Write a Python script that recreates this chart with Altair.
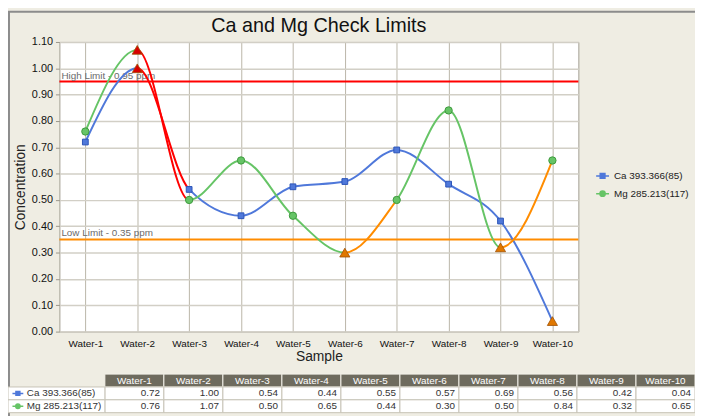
import altair as alt
import pandas as pd

samples = ["Water-1", "Water-2", "Water-3", "Water-4", "Water-5",
           "Water-6", "Water-7", "Water-8", "Water-9", "Water-10"]
ca_name = "Ca 393.366(85)"
mg_name = "Mg 285.213(117)"
ca_vals = [0.72, 1.00, 0.54, 0.44, 0.55, 0.57, 0.69, 0.56, 0.42, 0.04]
mg_vals = [0.76, 1.07, 0.50, 0.65, 0.44, 0.30, 0.50, 0.84, 0.32, 0.65]
high_limit = 0.95
low_limit = 0.35
limit_labels = ["High Limit - 0.95 ppm", "Low Limit - 0.35 ppm"]
y_ticks = [0.0, 0.1, 0.2, 0.3, 0.4, 0.5, 0.6, 0.7, 0.8, 0.9, 1.0, 1.1]

FONT = "Liberation Sans"
BLUE = "#4f78da"
GREEN = "#66c466"
RED = "#ff0000"
ORANGE = "#ff8c00"
TRI_RED = "#d80000"
TRI_ORANGE = "#e07800"
BG = "#efede3"

W, H = 525, 293
PAD_L, PAD_T = 52, 32
TOTAL_W, TOTAL_H = 695, 408


def status(v):
    if v > high_limit:
        return "high"
    if v < low_limit:
        return "low"
    return "normal"


rows = []
for name, vals in [(ca_name, ca_vals), (mg_name, mg_vals)]:
    for s, v in zip(samples, vals):
        st = status(v)
        rows.append({"series": name, "sample": s, "value": v, "status": st,
                     "tri": TRI_RED if st == "high" else TRI_ORANGE})
df = pd.DataFrame(rows)

x_axis = alt.Axis(title="Sample", labelFont=FONT, labelFontSize=10,
                  labelColor="#111", labelAngle=0, labelPadding=7,
                  ticks=False, domain=False, grid=True,
                  gridColor="#bab5a8", gridWidth=1,
                  titleFont=FONT, titleFontSize=14, titleFontWeight="normal",
                  titleColor="#222", titlePadding=1)
x_enc = alt.X("sample:N", sort=samples,
              scale=alt.Scale(type="point", domain=samples, padding=0.5),
              axis=x_axis)
y_scale = alt.Scale(domain=[0, 1.1], nice=False, zero=True)
y_axis = alt.Axis(title="Concentration", format=".2f", values=y_ticks,
                  labelOverlap=False, labelBound=False,
                  labelFont=FONT, labelFontSize=11, labelColor="#111",
                  tickSize=4, tickColor="#9a968a", labelPadding=3,
                  domain=False, grid=True, gridColor="#d2cfc6", gridWidth=1.5,
                  titleFont=FONT, titleFontSize=14, titleFontWeight="normal",
                  titleColor="#222", titlePadding=4)
y_enc = alt.Y("value:Q", scale=y_scale, axis=y_axis)


def gradient_for(vals, base):
    stops = []
    n = len(vals) - 1
    for i in range(n):
        st = status(vals[i])
        c = RED if st == "high" else ORANGE if st == "low" else base
        stops.append({"offset": i / n, "color": c})
        stops.append({"offset": (i + 1) / n, "color": c})
    return {"gradient": "linear", "x1": 0, "x2": 1, "y1": 0, "y2": 0, "stops": stops}


base = alt.Chart(df)

frame = alt.Chart(pd.DataFrame({"k": [0]})).mark_rect(
    fill=None, stroke="#8c8c8c", strokeWidth=2).encode(
    x=alt.value(-51), x2=alt.value(TOTAL_W - PAD_L + 20),
    y=alt.value(-30.5), y2=alt.value(TOTAL_H - PAD_T + 20))

lim_df = pd.DataFrame({"lim": [high_limit, low_limit], "label": limit_labels,
                       "c": [RED, ORANGE]})
lim_rules = alt.Chart(lim_df).mark_rule(strokeWidth=2).encode(
    y=alt.Y("lim:Q", scale=y_scale, axis=y_axis),
    color=alt.Color("c:N", scale=None))
lim_text = alt.Chart(lim_df).mark_text(
    align="left", baseline="bottom", dx=2, dy=-1, font=FONT, fontSize=10,
    color="#6a6a6a").encode(
    x=alt.value(0), y=alt.Y("lim:Q", scale=y_scale, axis=y_axis), text="label:N")

line_ca = base.transform_filter(alt.datum.series == ca_name).mark_line(
    interpolate="monotone", strokeWidth=2, stroke=gradient_for(ca_vals, BLUE)
).encode(x=x_enc, y=y_enc)
line_mg = base.transform_filter(alt.datum.series == mg_name).mark_line(
    interpolate="monotone", strokeWidth=2, stroke=gradient_for(mg_vals, GREEN)
).encode(x=x_enc, y=y_enc)

pts_ca = base.transform_filter(
    (alt.datum.series == ca_name) & (alt.datum.status == "normal")
).mark_point(shape="square", filled=True, size=34, fill=BLUE, stroke="#2d55b8",
             strokeWidth=1, opacity=1).encode(x=x_enc, y=y_enc)
pts_mg = base.transform_filter(
    (alt.datum.series == mg_name) & (alt.datum.status == "normal")
).mark_point(shape="circle", filled=True, size=55, fill=GREEN, stroke="#3e9a3e",
             strokeWidth=1, opacity=1).encode(x=x_enc, y=y_enc)
tris = base.transform_filter(alt.datum.status != "normal").mark_point(
    shape="triangle-up", filled=True, size=105, opacity=1, strokeWidth=0.8).encode(
    x=x_enc, y=y_enc,
    fill=alt.Fill("tri:N", scale=None),
    stroke=alt.value("#a05000"))

SQ_PATH = "M-1,0H1M-0.36,-0.36H0.36V0.36H-0.36Z"
CI_PATH = "M-1,0H1M0.4,0A0.4,0.4,0,1,1,-0.4,0A0.4,0.4,0,1,1,0.4,0Z"
leg_kw = dict(title=None, orient="none", legendX=542, legendY=128,
              labelFont=FONT, labelFontSize=10, labelColor="#222",
              symbolSize=170, symbolStrokeWidth=1.6, rowPadding=4,
              symbolOpacity=1, labelOffset=4)
leg_dom = [ca_name, mg_name]
legend_layer = base.transform_filter(alt.datum.sample == "Water-1").mark_point(
    filled=False, opacity=0).encode(
    x=x_enc, y=y_enc,
    stroke=alt.Stroke("series:N", scale=alt.Scale(domain=leg_dom, range=[BLUE, GREEN]),
                      legend=alt.Legend(**leg_kw)),
    fill=alt.Fill("series:N", scale=alt.Scale(domain=leg_dom, range=[BLUE, GREEN]),
                  legend=alt.Legend(**leg_kw)),
    shape=alt.Shape("series:N", scale=alt.Scale(domain=leg_dom,
                                                range=[SQ_PATH, CI_PATH]),
                    legend=alt.Legend(**leg_kw)))

main = alt.layer(frame, lim_rules, lim_text, line_ca, line_mg, pts_ca, pts_mg,
                 tris, legend_layer).resolve_scale(
    fill="independent", stroke="independent", shape="independent",
    color="independent")

# ---------- data table ----------
row_keys = ["hdr", ca_name, mg_name]
tx = alt.Scale(type="band", domain=samples, range=[46, TOTAL_W - PAD_L], padding=0)
ty = alt.Scale(type="band", domain=row_keys, range=[336, 375], padding=0)

hdr_df = pd.DataFrame({"sample": samples, "row": "hdr"})
tbl_df = df.assign(row=df["series"], txt=df["value"].map(lambda v: f"{v:.2f}"))
lab_df = pd.DataFrame({"row": [ca_name, mg_name], "label": [ca_name, mg_name],
                       "c": [BLUE, GREEN], "p": [SQ_PATH, CI_PATH]})

hdr_rect = alt.Chart(hdr_df).mark_rect(fill="#6e6b5e", stroke="#f4f2ea",
                                       strokeWidth=1).encode(
    x=alt.X("sample:N", scale=tx, axis=None),
    y=alt.Y("row:N", scale=ty, axis=None))
hdr_text = alt.Chart(hdr_df).mark_text(font=FONT, fontSize=10, color="white",
                                       baseline="middle").encode(
    x=alt.X("sample:N", scale=tx, axis=None, bandPosition=0.5),
    y=alt.Y("row:N", scale=ty, axis=None, bandPosition=0.5),
    text="sample:N")
cell_rect = alt.Chart(tbl_df).mark_rect(fill="white", stroke="#c6c2b6",
                                        strokeWidth=1).encode(
    x=alt.X("sample:N", scale=tx, axis=None),
    y=alt.Y("row:N", scale=ty, axis=None))
cell_text = alt.Chart(tbl_df).mark_text(font=FONT, fontSize=10, color="#333",
                                        align="right", baseline="middle",
                                        dx=-4).encode(
    x=alt.X("sample:N", scale=tx, axis=None, bandPosition=1),
    y=alt.Y("row:N", scale=ty, axis=None, bandPosition=0.5),
    text="txt:N")
lab_rect = alt.Chart(lab_df).mark_rect(fill="white", stroke="#c6c2b6",
                                       strokeWidth=1).encode(
    x=alt.value(-52), x2=alt.value(46),
    y=alt.Y("row:N", scale=ty, axis=None))
lab_icon = alt.Chart(lab_df).mark_point(filled=True, size=120, strokeWidth=1.5,
                                        opacity=1).encode(
    x=alt.value(-42),
    y=alt.Y("row:N", scale=ty, axis=None, bandPosition=0.5),
    fill=alt.Fill("c:N", scale=None), stroke=alt.Stroke("c:N", scale=None),
    shape=alt.Shape("p:N", scale=None))
lab_text = alt.Chart(lab_df).mark_text(font=FONT, fontSize=10, color="#333",
                                       align="left", baseline="middle").encode(
    x=alt.value(-33),
    y=alt.Y("row:N", scale=ty, axis=None, bandPosition=0.5),
    text="label:N")

table = alt.layer(hdr_rect, hdr_text, cell_rect, cell_text, lab_rect, lab_icon,
                  lab_text).resolve_scale(fill="independent", stroke="independent",
                                          shape="independent")

chart = alt.layer(main, table).resolve_scale(
    x="independent", y="independent", fill="independent", stroke="independent",
    shape="independent", color="independent"
).properties(
    width=W, height=H,
    title=alt.TitleParams("Ca and Mg Check Limits", font=FONT, fontSize=20,
                          fontWeight="normal", color="#111", anchor="middle",
                          frame="group", offset=0, dy=25),
    background=BG,
    autosize=alt.AutoSizeParams(type="none"),
    padding={"left": PAD_L, "top": PAD_T, "right": TOTAL_W - PAD_L - W,
             "bottom": TOTAL_H - PAD_T - H},
).configure_view(stroke="#a29e92", strokeWidth=1, fill="white")

chart.save("out.html", embed_options={"renderer": "svg", "actions": False})
